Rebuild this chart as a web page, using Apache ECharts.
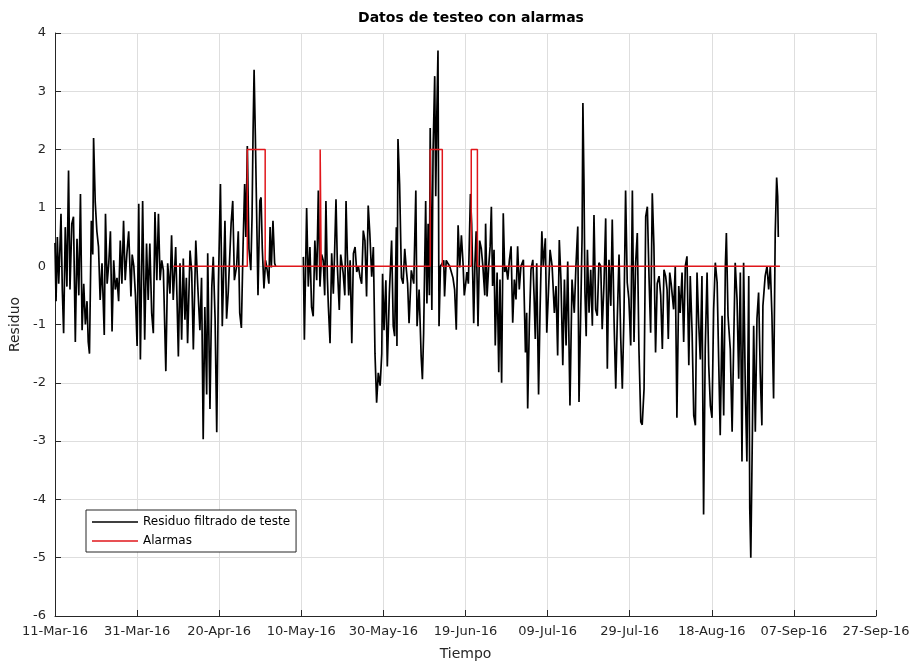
<!DOCTYPE html>
<html>
<head>
<meta charset="utf-8">
<script src="https://cdn.jsdelivr.net/npm/echarts@6/dist/echarts.min.js"></script>
<style>
html,body{margin:0;padding:0;background:#fff;}
#chart{width:917px;height:666px;}
</style>
</head>
<body>
<div id="chart"></div>
<script>
// ---- Data (days since 11-Mar-2016, residual value) ----
const etiquetasX = ['11-Mar-16','31-Mar-16','20-Apr-16','10-May-16','30-May-16','19-Jun-16','09-Jul-16','29-Jul-16','18-Aug-16','07-Sep-16','27-Sep-16'];
const etiquetasY = [-6,-5,-4,-3,-2,-1,0,1,2,3,4];

const residuoMuestras = [
[0.0,0.4],[0.25,-0.6],[0.57,0.5],[0.9,-0.3],[1.2,0.3],[1.46,0.9],[1.78,-0.4],[2.1,-1.15],[2.5,0.67],[2.9,-0.35],[3.3,1.64],[3.65,-0.4],[4.1,0.73],[4.5,0.85],[4.95,-1.3],[5.36,0.47],[5.8,-0.5],[6.2,1.24],[6.6,-1.1],[7.0,-0.3],[7.4,-1.0],[7.8,-0.6],[8.1,-1.3],[8.4,-1.5],[8.85,0.78],[9.2,0.2],[9.4,2.2],[9.8,1.1],[10.2,0.6],[10.6,0.33],[11.0,-0.58],[11.45,0.05],[12.0,-1.18],[12.3,0.9],[12.7,-0.3],[13.1,0.05],[13.5,0.6],[13.9,-1.12],[14.3,0.1],[14.7,-0.4],[15.1,-0.2],[15.5,-0.6],[15.9,0.44],[16.3,-0.3],[16.7,0.78],[17.1,-0.24],[17.5,0.2],[17.95,0.6],[18.5,-0.52],[18.8,0.2],[19.2,0],[19.6,-0.5],[20.0,-1.37],[20.4,1.07],[20.8,-1.6],[21.35,1.12],[21.85,-1.26],
[22.3,0.39],[22.7,-0.58],[23.1,0.39],[23.55,-0.8],[23.95,-1.15],[24.35,0.93],[24.8,-0.24],[25.2,0.9],[25.6,-0.24],[26.0,0.1],[26.4,-0.07],[27.0,-1.8],[27.45,0.05],[28.0,-0.47],[28.4,0.53],[28.8,-0.58],[29.4,0.33],[29.7,-0.5],[30.05,-1.55],[30.45,0.05],[30.85,-1.26],[31.25,0.13],[31.65,-0.92],[32.0,-0.2],[32.3,-1.32],[32.9,0.27],[33.3,-0.1],[33.7,-1.43],[34.3,0.44],[34.75,-0.3],[35.3,-1.1],[35.7,-0.2],[36.1,-2.97],[36.5,-0.7],[36.95,-2.2],[37.2,0.22],[37.75,-2.45],[38.2,-0.35],[38.55,0.16],[39.0,-0.9],[39.4,-2.85],[39.8,-0.35],[40.3,1.41],[40.75,-1.03],[41.4,0.78],[41.8,-0.9],[42.2,-0.45],[42.9,0.73],[43.3,1.12],[43.7,-0.24],[44.25,0],[44.65,0.6],
[45.0,-0.8],[45.4,-1.06],[45.8,0.3],[46.2,1.41],[46.5,0.5],[46.85,2.06],[47.25,0.3],[47.7,-0.07],[48.0,0.84],[48.25,2.3],[48.5,3.37],[48.8,2.26],[49.1,1.0],[49.45,-0.5],[49.9,1.12],[50.2,1.18],[50.5,0.3],[50.9,-0.38],[51.3,0.1],[51.7,-0.07],[52.1,-0.3],[52.4,0.67],[52.7,-0.02],[53.1,0.78],[53.5,0.05],[53.75,0],
[57,null],
[60.5,0.16],[60.75,-1.26],[61.3,1.0],[61.7,-0.35],[62.1,0.33],[62.5,-0.7],[62.9,-0.86],[63.3,0.44],[63.75,-0.24],[64.15,1.3],[64.55,-0.35],[64.95,0.2],[65.35,0.1],[65.7,-0.5],[66.0,1.12],[66.35,-0.2],[66.6,-0.7],[67.0,-1.32],[67.4,0.22],[67.8,-0.47],[68.1,0.2],[68.45,1.15],[68.8,-0.02],[69.25,-0.75],[69.6,0.2],[69.85,0.22],[70.2,-0.12],[70.6,-0.5],[70.9,1.12],[71.2,0.22],[71.55,-0.5],[71.9,0.1],[72.3,-1.32],[72.7,0.22],[73.1,0.33],[73.5,-0.1],[73.9,0],[74.3,-0.18],[74.7,-0.3],[75.1,0.61],[75.5,0.44],[75.9,-0.52],[76.3,1.04],[76.7,0.55],[77.15,-0.18],[77.55,0.33],[77.95,-1.5],[78.35,-2.34],[78.75,-1.83],[79.2,-2.05],[79.6,-1.5],[79.8,-0.13],[80.15,-1.1],[80.6,-0.24],[80.95,-1.72],[81.45,-0.47],[82.0,0.44],[82.4,-1.03],
[82.75,-1.2],[83.15,0.67],[83.3,-1.37],[83.55,2.18],[83.95,1.4],[84.4,-0.2],[84.8,-0.3],[85.2,0.3],[85.6,-0.07],[85.9,-0.3],[86.25,-0.98],[86.8,-0.07],[87.4,-0.3],[87.9,1.3],[88.2,-1.03],[88.7,-0.4],[89.2,-1.55],[89.5,-1.94],[89.8,-1.15],[90.3,1.12],[90.6,-0.64],[90.9,0.73],[91.2,-0.5],[91.4,2.37],[91.8,-0.75],[92.1,1.98],[92.5,3.26],[92.75,1.2],[93.0,2.55],[93.3,3.7],[93.55,-1.03],[93.9,0],[94.35,0.05],[94.7,0.1],[94.9,-0.52],[95.3,0.1],[95.7,0.05],[96.15,0],[96.55,0.02],[96.95,-0.2],[97.35,-0.4],[97.75,-1.09],[98.2,0.7],[98.6,-0.02],[99.0,0.53],[99.4,0.05],[99.7,-0.5],[100.05,-0.3],[100.35,-0.1],[100.7,-0.3],[101.2,1.24],[101.5,0.73],[102.0,-0.98],[102.3,0.05],[102.6,0.6],[103.05,-1.03],[103.45,0.44],[103.85,0.3],[104.25,-0.02],[104.7,-0.5],[104.9,0.73],[105.25,-0.52],
[105.65,0],[106.0,0.34],[106.3,1.02],[106.6,-0.34],[106.95,0.28],[107.25,-1.36],[107.7,-0.11],[108.1,-1.82],[108.4,-0.23],[108.8,-2.0],[109.2,0.91],[109.55,-0.1],[109.9,0],[110.3,-0.23],[110.7,0.11],[111.1,0.34],[111.5,-0.97],[111.9,-0.23],[112.3,-0.57],[112.7,0.34],[113.1,-0.4],[113.5,0],[114.1,0.11],[114.6,-1.48],[114.9,-0.8],[115.15,-2.44],[115.55,-1.0],[115.95,-0.06],[116.4,0.11],[116.7,-0.5],[117.0,-1.25],[117.35,0.05],[117.8,-2.2],[118.15,-0.8],[118.6,0.6],[118.95,0],[119.45,0.48],[119.8,-1.14],[120.3,-0.28],[120.6,0.28],[121.1,0],[121.65,-0.8],[122.05,-0.34],[122.45,-1.53],[122.85,0.45],[123.25,-0.23],[123.7,-1.7],[124.1,-0.23],[124.5,-1.36],[124.9,0.08],[125.45,-2.39],[125.95,-0.23],[126.5,-0.8],[126.9,0],[127.35,0.68],[127.65,-2.33],
[128.05,-0.85],[128.4,0.5],[128.6,2.8],[128.85,1.5],[129.1,-0.45],[129.4,-1.2],[129.7,0.28],[130.1,-0.8],[130.5,-0.06],[130.9,-1.02],[131.3,0.88],[131.7,-0.74],[132.1,-0.85],[132.5,0.06],[132.95,0],[133.3,-1.08],[133.75,-0.28],[134.15,0.82],[134.55,-1.76],[134.95,0.11],[135.4,-0.68],[135.75,0.8],[136.2,-0.97],[136.6,-2.1],[137.0,-0.85],[137.4,0.2],[137.8,-1.2],[138.2,-2.1],[138.6,-0.85],[139.0,1.3],[139.4,-0.28],[139.8,-0.57],[140.25,-1.36],[140.65,1.3],[141.05,-1.3],[141.45,0.06],[141.85,0.57],[142.25,-1.42],[142.7,-2.67],[143.05,-2.72],[143.5,-2.1],[143.9,0.85],[144.3,1.02],[144.7,-0.17],[145.1,-1.14],[145.5,1.25],[145.9,0.34],[146.3,-1.48],[146.7,-0.3],[147.15,-0.17],[147.55,-0.5],[147.95,-1.42],[148.35,-0.06],[148.75,-0.17],[149.1,-0.4],[149.4,-1.25],[149.75,-0.11],[150.1,-0.3],
[150.7,-0.74],[151.1,0],[151.5,-2.6],[151.95,-0.34],[152.3,-0.8],[152.75,-0.11],[153.15,-1.3],[153.55,0],[153.95,0.17],[154.4,-1.7],[154.75,-0.17],[155.2,-1.14],[155.6,-2.56],[156.0,-2.73],[156.4,-0.11],[156.8,-0.97],[157.2,-1.6],[157.6,-0.17],[158.0,-4.26],[158.4,-1.42],[158.85,-0.11],[159.25,-1.7],[159.65,-2.39],[160.05,-2.6],[160.45,-0.74],[160.85,0.06],[161.3,-0.28],[161.7,-1.7],[162.05,-2.9],[162.5,-0.85],[162.9,-2.56],[163.3,0],[163.55,0.57],[163.95,-0.85],[164.5,-1.42],[164.95,-2.84],[165.35,-1.25],[165.7,0.06],[166.15,-0.57],[166.55,-1.93],[166.95,-0.11],[167.35,-3.35],[167.75,0.06],[168.15,-2.05],[168.55,-3.35],[169.0,-0.17],[169.25,-4.15],[169.5,-5.0],[169.8,-3.35],[170.2,-1.02],[170.6,-2.84],[171.0,-0.9],[171.4,-0.45],[171.8,-1.82],[172.2,-2.73],[172.45,-0.68],[173.0,-0.17],[173.45,0],[173.85,-0.4],[174.25,0],[174.65,-0.85],[175.05,-2.27],[175.45,0.57],[175.8,1.52],[176.05,1.2],[176.2,0.5]
];

// Alarm signal (days since 11-Mar-2016)
const alarmaRango = [28.8, 176.6];
const alarmaSube  = [46.85, 64.6, 91.4, 101.4];
const alarmaBaja  = [51.2, 64.85, 94.35, 102.9];
const nivelAlarma = 2;

// ---- Build alarm step line from the event arrays ----
const alarmaDatos = [[alarmaRango[0], 0]];
for (let i = 0; i < alarmaSube.length; i++) {
  alarmaDatos.push([alarmaSube[i], 0], [alarmaSube[i], nivelAlarma], [alarmaBaja[i], nivelAlarma], [alarmaBaja[i], 0]);
}
alarmaDatos.push([alarmaRango[1], 0]);

const FONT = 'DejaVu Sans';
const axisColor = '#262626';

const chart = echarts.init(document.getElementById('chart'), null, {renderer: 'canvas'});
chart.setOption({
  animation: false,
  backgroundColor: '#ffffff',
  title: {
    text: 'Datos de testeo con alarmas',
    left: 466, top: 6, textAlign: 'center',
    textStyle: {fontFamily: FONT, fontWeight: 'bold', fontSize: 14, color: '#000'}
  },
  grid: {left: 55, right: 41, top: 33, bottom: 49, containLabel: false},
  legend: {
    orient: 'vertical', left: 86, top: 510,
    data: ['Residuo filtrado de teste', 'Alarmas'],
    icon: 'rect',
    backgroundColor: '#fff', borderColor: axisColor, borderWidth: 1,
    padding: [6, 6, 5, 6], itemGap: 7, itemWidth: 46, itemHeight: 1.6,
    textStyle: {fontFamily: FONT, fontSize: 12, color: '#000'}
  },
  xAxis: {
    type: 'value', min: 0, max: 200, interval: 20,
    name: 'Tiempo', nameLocation: 'middle', nameGap: 31,
    nameTextStyle: {fontFamily: FONT, fontSize: 14, color: axisColor},
    axisLine: {show: true, onZero: false, lineStyle: {color: axisColor, width: 1}},
    axisTick: {show: true, inside: true, length: 6, lineStyle: {color: axisColor}},
    axisLabel: {
      margin: 9, fontFamily: FONT, fontSize: 13, color: axisColor,
      formatter: v => etiquetasX[Math.round(v / 20)] || ''
    },
    splitLine: {show: true, lineStyle: {color: '#dedede', width: 1}}
  },
  yAxis: {
    type: 'value', min: etiquetasY[0], max: etiquetasY[etiquetasY.length - 1], interval: 1,
    name: 'Residuo', nameLocation: 'middle', nameGap: 27,
    nameTextStyle: {fontFamily: FONT, fontSize: 14, color: axisColor},
    axisLine: {show: true, lineStyle: {color: axisColor, width: 1}},
    axisTick: {show: true, inside: true, length: 6, lineStyle: {color: axisColor}},
    axisLabel: {margin: 9, fontFamily: FONT, fontSize: 13, color: axisColor},
    splitLine: {show: true, lineStyle: {color: '#dedede', width: 1}}
  },
  series: [
    {
      name: 'Residuo filtrado de teste', type: 'line',
      data: residuoMuestras, symbol: 'none', connectNulls: false,
      lineStyle: {color: '#000', width: 1.7}, itemStyle: {color: '#000'}
    },
    {
      name: 'Alarmas', type: 'line',
      data: alarmaDatos, symbol: 'none',
      lineStyle: {color: '#e0161b', width: 1.5}, itemStyle: {color: '#e0161b'}
    }
  ]
});
</script>
</body>
</html>
